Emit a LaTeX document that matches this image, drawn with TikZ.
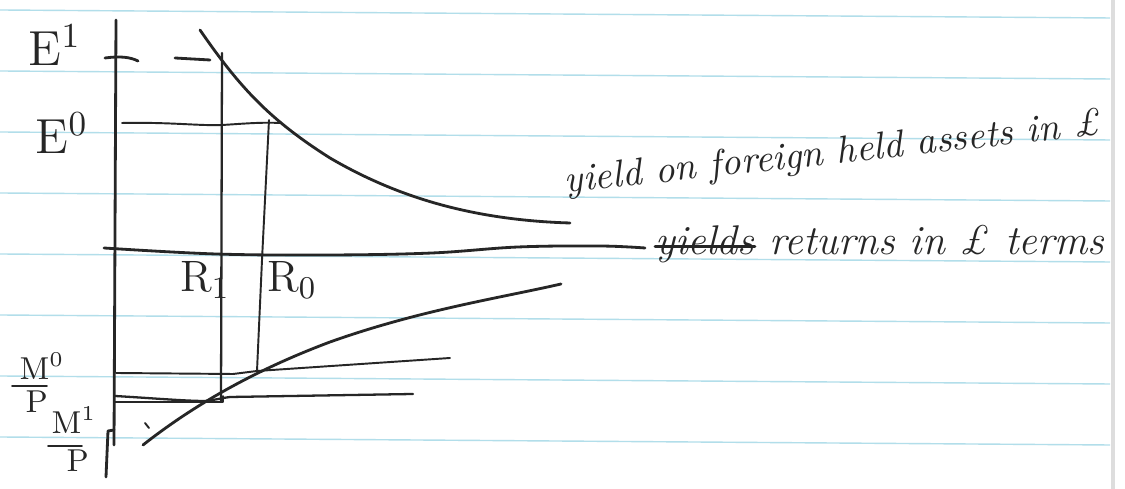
\documentclass[tikz,border=0pt]{standalone}
\definecolor{inkc}{HTML}{262626}
\definecolor{rulec}{HTML}{B2DEEA}
\definecolor{marginc}{HTML}{DDDDDD}
\begin{document}
\begin{tikzpicture}[x=0.01cm,y=-0.01cm,
  ink/.style={draw=inkc, line width=0.8pt, line cap=round, line join=round},
  thinink/.style={draw=inkc, line width=0.55pt, line cap=round, line join=round},
  paperrule/.style={draw=rulec, line width=0.4pt},
  lbl/.style={text=inkc, inner sep=0pt},
  note/.style={text=inkc, inner sep=0pt, font=\itshape}]
\useasboundingbox (0,0) rectangle (1125,489);
\fill[white] (0,0) rectangle (1125,489);
% lined paper
\foreach \k in {0,...,7} \draw[paperrule] (0,{10+61*\k}) -- (1110,{18+61*\k});
\draw[draw=marginc, line width=1pt] (1113,0) -- (1113,489);

% vertical axis
\draw[ink] (116,20) -- (114,445);
\draw[ink] (114,430) -- (108,431) -- (106,477);

% E1 ticks
\draw[ink] (105,58) .. controls (120,56) and (130,57) .. (138,61);
\draw[ink] (175,58) -- (210,60);

% upper curve: yield on foreign held assets
\draw[ink] (200,30) .. controls (240,88) and (270,120) .. (330,158)
                    .. controls (395,196) and (470,220) .. (570,223);

% horizontal line: returns in pound terms
\draw[ink] plot[smooth, tension=0.6] coordinates {(104,248) (216,254) (330,255) (432,253) (518,247) (600,246) (645,248)};

% E0 line
\draw[thinink] (122,123) .. controls (170,122) and (200,126) .. (222,125) .. controls (240,124) and (260,122) .. (280,123);

% R1 and R0 verticals
\draw[ink, line width=0.65pt] (222,53) -- (221,402);
\draw[thinink] (269,120) -- (262,260) -- (257,371);

% lower curve
\draw[ink] (143,445) .. controls (190,408) and (250,372) .. (330,342)
                     .. controls (420,310) and (500,298) .. (561,284);

% M0 and M1 lines
\draw[thinink] (116,373) -- (233,374) -- (257,371) -- (450,358);
\draw[ink, line width=0.65pt] (115,396) .. controls (150,398) and (185,401) .. (205,401) .. controls (215,400) and (222,398) .. (230,397) -- (413,394);
\draw[thinink] (115,402) -- (223,402) -- (223,396);
\draw[thinink] (145,423) -- (149,428);

% labels
\node[lbl, font=\fontsize{14}{16}\selectfont] (E1) at (55,45) {E$^{1}$};
\node[lbl, font=\fontsize{14}{16}\selectfont] (E0) at (62,133) {E$^{0}$};
\node[lbl, font=\fontsize{12.5}{14}\selectfont] (R1) at (205,280) {R$_{1}$};
\node[lbl, font=\fontsize{12.5}{14}\selectfont] (R0) at (292,280) {R$_{0}$};

\node[lbl, font=\fontsize{9}{11}\selectfont, anchor=base west] (M0num) at (19,380) {M$^{0}$};
\draw[thinink] (12,386) -- (47,386);
\node[lbl, font=\fontsize{9}{11}\selectfont, anchor=base west] (M0den) at (25,413) {P};
\node[lbl, font=\fontsize{9}{11}\selectfont, anchor=base west] (M1num) at (51,434) {M$^{1}$};
\draw[thinink] (48,446) -- (82,446);
\node[lbl, font=\fontsize{9}{11}\selectfont, anchor=base west] (M1den) at (66,472) {P};

% notes
\node[note, font=\itshape\fontsize{10.9}{13}\selectfont, rotate=6.2, anchor=base west] (yield) at (565,193) {yield on foreign held assets in \textsterling};
\node[note, font=\itshape\fontsize{11.8}{13}\selectfont, anchor=base west] (yields) at (655,255) {yields};
\node[note, font=\itshape\fontsize{11.8}{13}\selectfont, anchor=base west] (returns) at ([xshift=4pt]yields.base east) {returns in \textsterling\ terms};
\draw[ink] ([yshift=2.4pt]yields.base west) -- ([yshift=2.4pt]yields.base east);
\end{tikzpicture}
\end{document}
